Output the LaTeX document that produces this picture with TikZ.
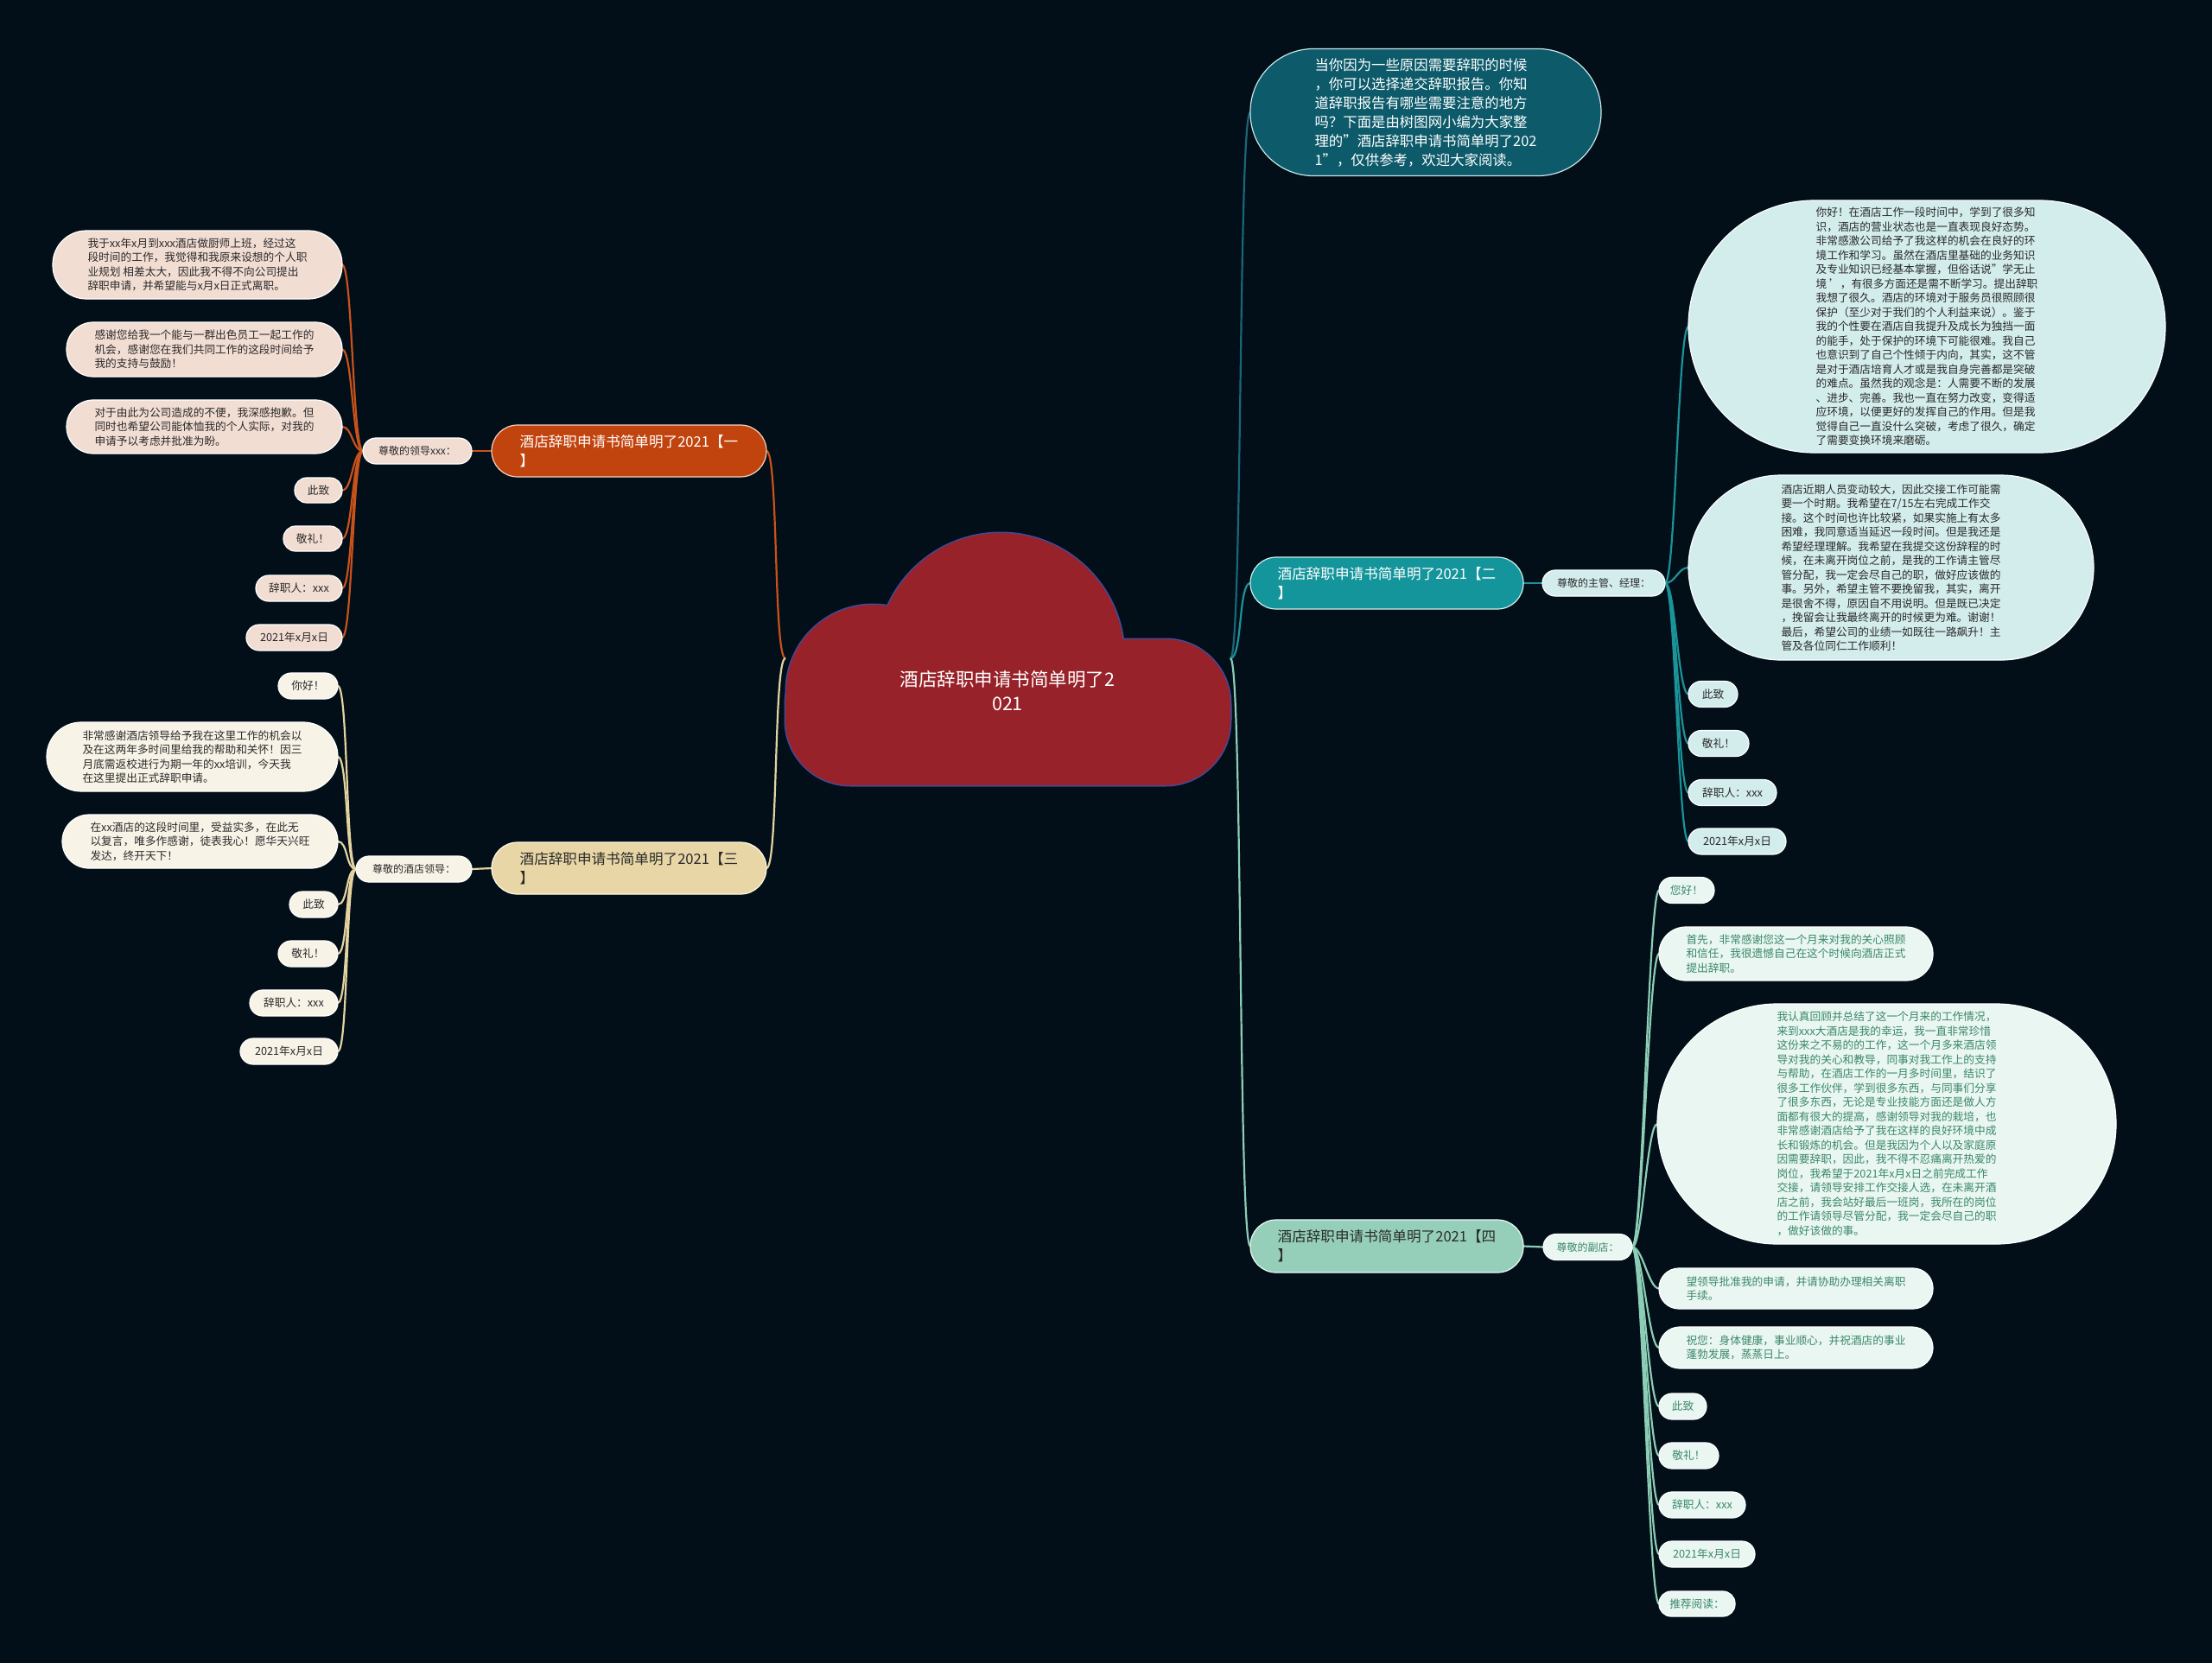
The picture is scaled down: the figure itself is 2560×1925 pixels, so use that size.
\documentclass[tikz,border=0pt]{standalone}
\usepackage{fontspec}
\setmainfont{Noto Sans CJK SC}
\definecolor{bg}{HTML}{020F18}
\definecolor{cloudfill}{HTML}{98222A}
\definecolor{cloudline}{HTML}{3E4C9C}
\definecolor{introfill}{HTML}{0C5A6A}
\definecolor{introborder}{HTML}{C8E6EA}
\definecolor{introline}{HTML}{1B6676}
\definecolor{oneF}{HTML}{C1440E}
\definecolor{oneB}{HTML}{F2D2C2}
\definecolor{oneL}{HTML}{C9521C}
\definecolor{oneLeaf}{HTML}{F2DDD3}
\definecolor{twoF}{HTML}{14959B}
\definecolor{twoB}{HTML}{CFEEEE}
\definecolor{twoL}{HTML}{1A9399}
\definecolor{twoLeaf}{HTML}{D3ECEC}
\definecolor{threeF}{HTML}{E8D6A6}
\definecolor{threeB}{HTML}{FFF8E4}
\definecolor{threeL}{HTML}{E4D3A0}
\definecolor{threeLeaf}{HTML}{F8F3E7}
\definecolor{fourF}{HTML}{95CFBA}
\definecolor{fourB}{HTML}{EAF8F2}
\definecolor{fourL}{HTML}{8CCDB5}
\definecolor{fourLeaf}{HTML}{E9F6F1}
\definecolor{fourText}{HTML}{3A8869}
\definecolor{darkText}{HTML}{2A2A2A}
\pgfdeclarelayer{back}
\pgfdeclarelayer{lines}
\pgfsetlayers{back,lines,main}
\begin{document}
\begin{tikzpicture}[x=1pt,y=-1pt,
  every node/.style={inner sep=0pt, outer sep=0pt},
  pill/.style n args={3}{minimum width=#1, minimum height=#2, rounded corners=#3},
  base/.style={align=left, line width=1.2},
  smallfont/.style={font=\fontsize{12.7}{16.5}\selectfont},
  subfont/.style={font=\fontsize{12}{15}\selectfont},
  boxfont/.style={font=\fontsize{16.6}{21.7}\selectfont},
  leafA/.style={base, smallfont, draw=white, fill=oneLeaf, text=darkText},
  leafB/.style={base, smallfont, draw=white, fill=twoLeaf, text=darkText},
  leafC/.style={base, smallfont, draw=white, fill=threeLeaf, text=darkText},
  leafD/.style={base, smallfont, draw=white, fill=fourLeaf, text=fourText},
  subA/.style={base, subfont, draw=white, fill=oneLeaf, text=darkText},
  subB/.style={base, subfont, draw=white, fill=twoLeaf, text=darkText},
  subC/.style={base, subfont, draw=white, fill=threeLeaf, text=darkText},
  subD/.style={base, subfont, draw=white, fill=fourLeaf, text=fourText},
  boxA/.style={base, boxfont, draw=oneB, fill=oneF, text=white},
  boxB/.style={base, boxfont, draw=twoB, fill=twoF, text=white},
  boxC/.style={base, boxfont, draw=threeB, fill=threeF, text=darkText},
  boxD/.style={base, boxfont, draw=fourB, fill=fourF, text=darkText},
  introbox/.style={base, font=\fontsize{16.4}{22}\selectfont, draw=introborder, fill=introfill, text=white},
  conA/.style={draw=oneL, line width=2.2},
  conB/.style={draw=twoL, line width=2.2},
  conC/.style={draw=threeL, line width=2.2},
  conD/.style={draw=fourL, line width=2.2},
  conI/.style={draw=introline, line width=2.2},
  cloudedge/.style={draw=cloudline, line width=3},
  cloudbody/.style={fill=cloudfill}
]
\begin{pgfonlayer}{back}
\fill[bg] (0,0) rectangle (2560,1925);
\end{pgfonlayer}
\useasboundingbox (0,0) rectangle (2560,1925);

% ---------- central cloud ----------
\path[cloudedge, rounded corners=75] (909,740) rectangle (1424,909);
\path[cloudedge] (1010,800) circle (100);
\path[cloudedge] (1158,760) circle (143);
\path[cloudedge] (1352,826) circle (72);
\path[cloudbody, rounded corners=75] (909,740) rectangle (1424,909);
\path[cloudbody] (1010,800) circle (100);
\path[cloudbody] (1158,760) circle (143);
\path[cloudbody] (1352,826) circle (72);
\node[font=\fontsize{21.5}{28}\selectfont, text=white, align=center] (root) at (1166,800) {酒店辞职申请书简单明了2\\021};
\coordinate (cL) at (909,762);
\coordinate (cR) at (1424,762);

% ---------- intro ----------
\node[introbox, pill={406}{147}{73}] (intro) at (1650,130) {当你因为一些原因需要辞职的时候\\，你可以选择递交辞职报告。你知\\道辞职报告有哪些需要注意的地方\\吗？下面是由树图网小编为大家整\\理的"酒店辞职申请书简单明了202\\1"，仅供参考，欢迎大家阅读。};

% ---------- branch 1 ----------
\node[boxA, pill={318}{60}{30}] (b1) at (728,522) {酒店辞职申请书简单明了2021【一\\】};
\node[subA, pill={126}{30}{15}] (s1) at (483,522) {尊敬的领导xxx：};
\node[leafA, pill={335}{79}{39}] (a1) at (228.5,306.5) {我于xx年x月到xxx酒店做厨师上班，经过这\\段时间的工作，我觉得和我原来设想的个人职\\业规划 相差太大，因此我不得不向公司提出\\辞职申请，并希望能与x月x日正式离职。};
\node[leafA, pill={319}{63}{31}] (a2) at (236.5,404.5) {感谢您给我一个能与一群出色员工一起工作的\\机会，感谢您在我们共同工作的这段时间给予\\我的支持与鼓励！};
\node[leafA, pill={319}{62}{31}] (a3) at (236.5,494) {对于由此为公司造成的不便，我深感抱歉。但\\同时也希望公司能体恤我的个人实际，对我的\\申请予以考虑并批准为盼。};
\node[leafA, pill={55}{29}{14}] (a4) at (368.5,567.5) {此致};
\node[leafA, pill={68}{29}{14}] (a5) at (362,623.5) {敬礼！};
\node[leafA, pill={100}{30}{15}] (a6) at (346,681) {辞职人：xxx};
\node[leafA, pill={111}{30}{15}] (a7) at (340.5,738) {2021年x月x日};

% ---------- branch 3 ----------
\node[boxC, pill={318}{60}{30}] (b3) at (728,1005) {酒店辞职申请书简单明了2021【三\\】};
\node[subC, pill={134}{30}{15}] (s3) at (479,1006) {尊敬的酒店领导：};
\node[leafC, pill={69}{30}{15}] (c1) at (356.5,794) {你好！};
\node[leafC, pill={337}{80}{40}] (c2) at (222.5,876) {非常感谢酒店领导给予我在这里工作的机会以\\及在这两年多时间里给我的帮助和关怀！因三\\月底需返校进行为期一年的xx培训，今天我\\在这里提出正式辞职申请。};
\node[leafC, pill={319}{62}{31}] (c3) at (231.5,974) {在xx酒店的这段时间里，受益实多，在此无\\以复言，唯多作感谢，徒表我心！愿华天兴旺\\发达，终开天下！};
\node[leafC, pill={56}{30}{15}] (c4) at (363,1047) {此致};
\node[leafC, pill={69}{30}{15}] (c5) at (356.5,1104) {敬礼！};
\node[leafC, pill={102}{30}{15}] (c6) at (340,1161) {辞职人：xxx};
\node[leafC, pill={113}{30}{15}] (c7) at (334.5,1217) {2021年x月x日};

% ---------- branch 2 ----------
\node[boxB, pill={316}{60}{30}] (b2) at (1605,675) {酒店辞职申请书简单明了2021【二\\】};
\node[subB, pill={142}{30}{15}] (s2) at (1856,675) {尊敬的主管、经理：};
\node[leafB, pill={552}{292}{146}] (d1) at (2230,378) {你好！在酒店工作一段时间中，学到了很多知\\识，酒店的营业状态也是一直表现良好态势。\\非常感激公司给予了我这样的机会在良好的环\\境工作和学习。虽然在酒店里基础的业务知识\\及专业知识已经基本掌握，但俗话说"学无止\\境 '，有很多方面还是需不断学习。提出辞职\\我想了很久。酒店的环境对于服务员很照顾很\\保护（至少对于我们的个人利益来说）。鉴于\\我的个性要在酒店自我提升及成长为独挡一面\\的能手，处于保护的环境下可能很难。我自己\\也意识到了自己个性倾于内向，其实，这不管\\是对于酒店培育人才或是我自身完善都是突破\\的难点。虽然我的观念是：人需要不断的发展\\、进步、完善。我也一直在努力改变，变得适\\应环境，以便更好的发挥自己的作用。但是我\\觉得自己一直没什么突破，考虑了很久，确定\\了需要变换环境来磨砺。};
\node[leafB, pill={469}{214}{107}] (d2) at (2188.5,657) {酒店近期人员变动较大，因此交接工作可能需\\要一个时期。我希望在7/15左右完成工作交\\接。这个时间也许比较紧，如果实施上有太多\\困难，我同意适当延迟一段时间。但是我还是\\希望经理理解。我希望在我提交这份辞程的时\\候，在未离开岗位之前，是我的工作请主管尽\\管分配，我一定会尽自己的职，做好应该做的\\事。另外，希望主管不要挽留我，其实，离开\\是很舍不得，原因自不用说明。但是既已决定\\，挽留会让我最终离开的时候更为难。谢谢！\\最后，希望公司的业绩一如既往一路飙升！主\\管及各位同仁工作顺利！};
\node[leafB, pill={57}{30}{15}] (d3) at (1982.5,803.5) {此致};
\node[leafB, pill={70}{30}{15}] (d4) at (1989,860.5) {敬礼！};
\node[leafB, pill={102}{30}{15}] (d5) at (2005,917.5) {辞职人：xxx};
\node[leafB, pill={113}{30}{15}] (d6) at (2010.5,974) {2021年x月x日};

% ---------- branch 4 ----------
\node[boxD, pill={316}{61}{30}] (b4) at (1605,1442.5) {酒店辞职申请书简单明了2021【四\\】};
\node[subD, pill={103}{30}{15}] (s4) at (1837.5,1443.5) {尊敬的副店：};
\node[leafD, pill={64}{30}{15}] (e1) at (1952,1030.5) {您好！};
\node[leafD, pill={317}{62}{31}] (e2) at (2078.5,1104) {首先，非常感谢您这一个月来对我的关心照顾\\和信任，我很遗憾自己在这个时候向酒店正式\\提出辞职。};
\node[leafD, pill={531}{278}{139}] (e3) at (2183.5,1301) {我认真回顾并总结了这一个月来的工作情况，\\来到xxx大酒店是我的幸运，我一直非常珍惜\\这份来之不易的的工作，这一个月多来酒店领\\导对我的关心和教导，同事对我工作上的支持\\与帮助，在酒店工作的一月多时间里，结识了\\很多工作伙伴，学到很多东西，与同事们分享\\了很多东西，无论是专业技能方面还是做人方\\面都有很大的提高，感谢领导对我的栽培，也\\非常感谢酒店给予了我在这样的良好环境中成\\长和锻炼的机会。但是我因为个人以及家庭原\\因需要辞职，因此，我不得不忍痛离开热爱的\\岗位，我希望于2021年x月x日之前完成工作\\交接，请领导安排工作交接人选，在未离开酒\\店之前，我会站好最后一班岗，我所在的岗位\\的工作请领导尽管分配，我一定会尽自己的职\\，做好该做的事。};
\node[leafD, pill={317}{47}{23}] (e4) at (2078.5,1491.5) {望领导批准我的申请，并请协助办理相关离职\\手续。};
\node[leafD, pill={317}{48}{24}] (e5) at (2078.5,1560) {祝您：身体健康，事业顺心，并祝酒店的事业\\蓬勃发展，蒸蒸日上。};
\node[leafD, pill={55}{30}{15}] (e6) at (1947.5,1628) {此致};
\node[leafD, pill={69}{30}{15}] (e7) at (1954.5,1685) {敬礼！};
\node[leafD, pill={100}{30}{15}] (e8) at (1970,1742) {辞职人：xxx};
\node[leafD, pill={111}{30}{15}] (e9) at (1975.5,1799) {2021年x月x日};
\node[leafD, pill={88}{29}{14}] (e10) at (1964,1856.5) {推荐阅读：};

% ---------- connectors ----------
\begin{pgfonlayer}{lines}
\draw[conA] (cL) .. controls +(-14,0) and +(14,0) .. (b1.east);
\draw[conC] (cL) .. controls +(-14,0) and +(14,0) .. (b3.east);
\draw[conI] (cR) .. controls +(14,0) and +(-14,0) .. (intro.west);
\draw[conB] (cR) .. controls +(14,0) and +(-14,0) .. (b2.west);
\draw[conD] (cR) .. controls +(14,0) and +(-14,0) .. (b4.west);
\draw[conA] (b1.west) -- (s1.east);
\draw[conC] (b3.west) -- (s3.east);
\draw[conB] (b2.east) -- (s2.west);
\draw[conD] (b4.east) -- (s4.west);
\foreach \n in {a1,a2,a3,a4,a5,a6,a7}
  \draw[conA] (s1.west) .. controls +(-12,0) and +(12,0) .. (\n.east);
\foreach \n in {c1,c2,c3,c4,c5,c6,c7}
  \draw[conC] (s3.west) .. controls +(-12,0) and +(12,0) .. (\n.east);
\foreach \n in {d1,d2,d3,d4,d5,d6}
  \draw[conB] (s2.east) .. controls +(12,0) and +(-12,0) .. (\n.west);
\foreach \n in {e1,e2,e3,e4,e5,e6,e7,e8,e9,e10}
  \draw[conD] (s4.east) .. controls +(12,0) and +(-12,0) .. (\n.west);
\end{pgfonlayer}
\end{tikzpicture}
\end{document}
